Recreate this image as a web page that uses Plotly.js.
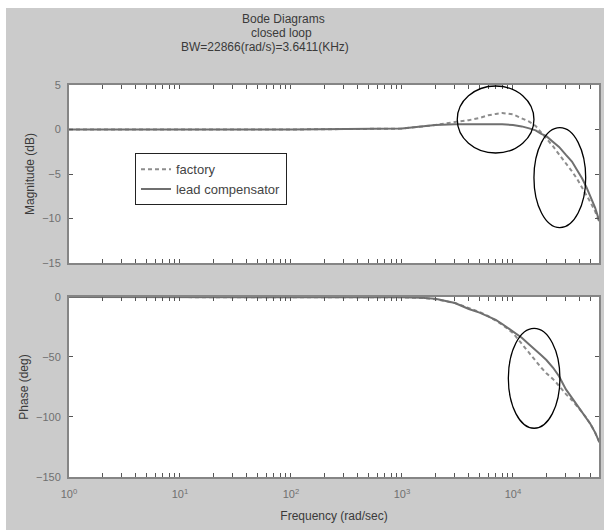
<!DOCTYPE html>
<html>
<head>
<meta charset="utf-8">
<script src="https://cdn.plot.ly/plotly-3.0.1.min.js"></script>
<style>
html,body{margin:0;padding:0;background:#ffffff;}
#chart{position:absolute;left:6px;top:8px;width:598px;height:522px;}
</style>
</head>
<body>
<div id="chart"></div>
<script>
// Frequencies (rad/sec)
const freq = [1, 10, 100, 1000, 1500, 2000, 3000, 4000, 5000, 6000, 7000, 8000, 10000, 12000, 14000, 16000, 18000, 20000, 23000, 26000, 30000, 34000, 38000, 42000, 46000, 50000, 55000, 60000];

// Magnitude (dB)
const magFactory = [0, 0, 0, 0.1, 0.3, 0.5, 0.85, 1.05, 1.3, 1.6, 1.75, 1.85, 1.7, 1.3, 0.88, 0.4, -0.35, -0.95, -1.9, -2.8, -3.8, -4.7, -5.6, -6.5, -7.4, -8.2, -9.2, -10.4];
const magLead    = [0, 0, 0, 0.1, 0.3, 0.5, 0.58, 0.6, 0.6, 0.6, 0.6, 0.58, 0.5, 0.35, 0.13, -0.1, -0.5, -0.75, -1.4, -1.95, -2.85, -3.6, -4.6, -5.5, -6.5, -7.6, -8.8, -10.3];

// Phase (deg)
const phFactory = [0, 0, -0.1, -0.3, -0.8, -1.8, -5, -9, -12.5, -16, -19.5, -23, -30, -39, -47, -53.5, -59, -63.6, -68.5, -74, -81, -86, -91, -96, -101, -106, -113, -121];
const phLead    = [0, 0, -0.1, -0.3, -0.7, -1.5, -5, -10, -13, -16, -19, -22.5, -29, -34, -39.5, -44, -48.5, -52.5, -59, -66, -77, -84, -90.5, -96, -101, -106, -113, -121];

// Axis ticks: decades labelled, intermediate digits as unlabelled ticks
const decades = [1, 10, 100, 1000, 10000];
const decadeLabels = ['10<sup>0</sup>', '10<sup>1</sup>', '10<sup>2</sup>', '10<sup>3</sup>', '10<sup>4</sup>'];
const magTicks = [-15, -10, -5, 0, 5];
const phTicks = [-150, -100, -50, 0];

const seriesNames = ['factory', 'lead compensator'];
const titleLines = ['Bode Diagrams', 'closed loop', 'BW=22866(rad/s)=3.6411(KHz)'];

const xTickVals = [];
const xTickText = [];
decades.forEach(function(d, i) {
  for (let k = 1; k <= 9; k++) {
    xTickVals.push(d * k);
    xTickText.push(k === 1 ? decadeLabels[i] : '');
  }
});

const lineCol = '#6f6f6f';
const dashCol = '#8d8d8d';
const frameCol = '#858585';
const FONT = 'Arial, Liberation Sans, sans-serif';
const tickFont = {family: FONT, size: 11, color: '#707070'};
const titleFont = {family: FONT, size: 12, color: '#3a3a3a'};

const traces = [
  {x: freq, y: magFactory, name: seriesNames[0], mode: 'lines', xaxis: 'x', yaxis: 'y',
   line: {color: dashCol, width: 2, dash: '4px,3px'}, legendrank: 1},
  {x: freq, y: magLead, name: seriesNames[1], mode: 'lines', xaxis: 'x', yaxis: 'y',
   line: {color: lineCol, width: 2}, legendrank: 2},
  {x: freq, y: phFactory, name: seriesNames[0], mode: 'lines', xaxis: 'x2', yaxis: 'y2',
   line: {color: dashCol, width: 2, dash: '4px,3px'}, showlegend: false},
  {x: freq, y: phLead, name: seriesNames[1], mode: 'lines', xaxis: 'x2', yaxis: 'y2',
   line: {color: lineCol, width: 2}, showlegend: false}
];

const xCommon = {
  type: 'log', range: [0, 4.775], tickmode: 'array', tickvals: xTickVals, ticktext: xTickText,
  ticks: 'inside', ticklen: 4, tickcolor: '#555', mirror: 'ticks', showline: true,
  linecolor: frameCol, linewidth: 2, showgrid: false, zeroline: false, tickfont: tickFont
};

const yCommon = {
  tickmode: 'array', ticks: 'inside', ticklen: 4, tickcolor: '#555', mirror: 'ticks',
  showline: true, linecolor: frameCol, linewidth: 2, showgrid: false, zeroline: false,
  tickfont: tickFont, ticklabelstandoff: 4
};

const layout = {
  width: 598, height: 522,
  paper_bgcolor: '#cbcbcb', plot_bgcolor: '#ffffff',
  margin: {l: 63, r: 5, t: 77, b: 53},
  showlegend: true,
  legend: {x: 0.1245, y: 0.826, xanchor: 'left', yanchor: 'top', bgcolor: '#ffffff',
           bordercolor: '#222222', borderwidth: 1,
           font: {family: FONT, size: 13, color: '#444'}, tracegroupgap: 0},
  xaxis: Object.assign({}, xCommon, {domain: [0, 1], anchor: 'y', showticklabels: false}),
  xaxis2: Object.assign({}, xCommon, {domain: [0, 1], anchor: 'y2', matches: 'x',
           ticklabelstandoff: 6,
           title: {text: 'Frequency (rad/sec)', font: titleFont, standoff: 12}}),
  yaxis: Object.assign({}, yCommon, {domain: [0.5459, 1], range: [-15, 5], tickvals: magTicks,
          anchor: 'x', title: {text: 'Magnitude (dB)', font: titleFont, standoff: 5}}),
  yaxis2: Object.assign({}, yCommon, {domain: [0, 0.4592], range: [-150, 0], tickvals: phTicks,
          anchor: 'x2', title: {text: 'Phase (deg)', font: titleFont, standoff: 5}}),
  annotations: [
    {text: titleLines[0], xref: 'paper', yref: 'paper', x: 0.4038, y: 1.1696, showarrow: false, font: titleFont, xanchor: 'center', yanchor: 'middle'},
    {text: titleLines[1], xref: 'paper', yref: 'paper', x: 0.4000, y: 1.1327, showarrow: false, font: titleFont, xanchor: 'center', yanchor: 'middle'},
    {text: titleLines[2], xref: 'paper', yref: 'paper', x: 0.3700, y: 1.0969, showarrow: false, font: titleFont, xanchor: 'center', yanchor: 'middle'}
  ],
  shapes: [
    {type: 'circle', xref: 'x', yref: 'y', x0: 3148, x1: 15450, y0: -2.64, y1: 4.89, line: {color: '#000', width: 1.3}},
    {type: 'circle', xref: 'x', yref: 'y', x0: 15450, x1: 45190, y0: -11.03, y1: 0.2, line: {color: '#000', width: 1.3}},
    {type: 'circle', xref: 'x2', yref: 'y2', x0: 9080, x1: 26490, y0: -109.4, y1: -26.1, line: {color: '#000', width: 1.3}}
  ]
};

Plotly.newPlot('chart', traces, layout, {displayModeBar: false, staticPlot: true});
</script>
</body>
</html>
